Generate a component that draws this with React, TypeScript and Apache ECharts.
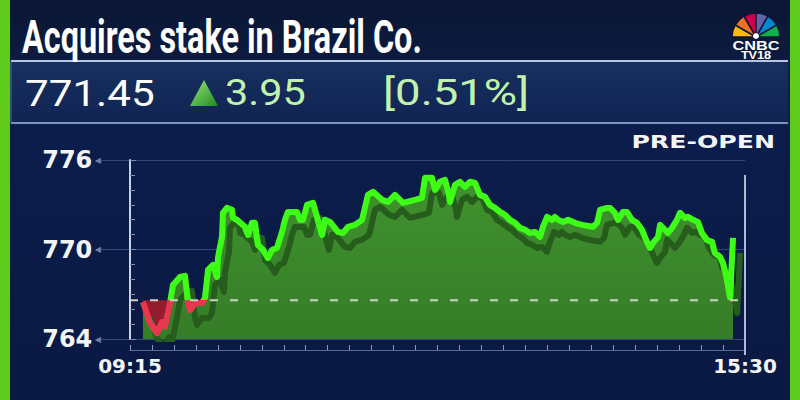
import React, { useEffect, useRef } from 'react';
import * as echarts from 'echarts';

const titleText = 'Acquires stake in Brazil Co.';
const lastPrice = '771.45';
const changeAbs = '3.95';
const changePct = '[0.51%]';
const sessionLabel = 'PRE-OPEN';

const yTickValues = [764, 770, 776];
const xLabelTexts = ['09:15', '15:30'];
const sessionMinutes = 375;
const baseLine = 766.6;

// minutes after 09:15
const minutes = [
  7.9, 12.2, 16.5, 19.5, 21.3, 24.4, 26.2, 30.5, 33.5, 35.4, 36.6, 39.6, 43.9, 45.7, 47.6,
  50.6, 53.0, 53.7, 56.1, 56.7, 59.1, 62.2, 62.8, 65.2, 70.1, 72.0, 74.4, 76.2, 78.0, 81.1,
  84.1, 86.6, 89.6, 92.7, 94.5, 96.3, 101.8, 103.7, 105.5, 107.9, 111.6, 114.0, 117.1, 118.9,
  122.0, 126.8, 129.9, 132.9, 137.2, 141.5, 145.1, 148.2, 153.7, 157.3, 161.6, 166.5, 173.8,
  178.0, 179.9, 184.1, 186.0, 189.0, 192.1, 194.5, 195.1, 198.2, 201.2, 204.3, 207.3, 210.4,
  213.4, 216.5, 219.5, 222.6, 225.6, 228.7, 231.7, 234.8, 237.8, 240.9, 243.9, 247.0, 250.0,
  251.8, 254.3, 257.3, 259.1, 261.0, 264.0, 267.1, 271.3, 275.6, 282.3, 284.8, 286.6, 290.9,
  292.7, 295.7, 297.6, 300.6, 303.0, 306.1, 309.1, 312.2, 315.2, 317.1, 318.9, 322.0, 323.2,
  326.2, 328.0, 330.5, 333.5, 335.4, 338.4, 340.2, 343.3, 346.3, 348.8, 351.8, 354.9, 356.7,
  359.8, 361.6, 364.0, 365.9, 367.7,
];

const prices = [
  766.48, 765.07, 764.4, 765.14, 764.83, 766.42, 767.62, 768.16, 768.23, 766.42, 765.95, 766.42, 766.42, 766.75, 768.63,
  768.97, 768.16, 769.5, 770.85, 772.46, 772.79, 772.66, 772.12, 771.99, 771.52, 770.98, 771.79, 771.79, 770.31, 769.97,
  769.44, 769.97, 770.11, 771.18, 771.99, 772.52, 772.52, 771.99, 771.99, 772.99, 773.13, 772.19, 770.98, 771.99,
  771.85, 771.18, 771.11, 771.52, 771.65, 771.99, 773.66, 773.87, 773.33, 773.19, 773.66, 773.13, 773.33,
  773.46, 774.81, 774.81, 774.0, 774.54, 774.67, 773.66, 773.19, 774.34, 774.54, 774.2, 774.54, 774.47,
  773.66, 773.53, 772.99, 772.79, 772.52, 772.32, 771.99, 771.79, 771.45, 771.32, 771.11, 771.18, 770.85,
  771.52, 772.19, 771.99, 772.19, 771.99, 771.85, 771.99, 771.79, 771.65, 771.52, 771.79, 772.66, 772.79,
  772.79, 772.46, 771.99, 772.52, 772.52, 771.99, 771.79, 771.32, 770.51, 770.11, 770.44, 770.85, 771.65,
  771.32, 771.11, 771.45, 771.99, 772.46, 772.12, 772.19, 771.99, 771.85, 771.11, 770.64, 770.51, 769.77,
  769.5, 769.1, 767.96, 766.75, 770.78,
];

const redSegmentCount = 15;

export default function App() {
  const ref = useRef<HTMLDivElement>(null);

  useEffect(() => {
    if (!ref.current) return;
    const chart = echarts.init(ref.current, undefined, { renderer: 'svg' });
    const points = minutes.map((m, i) => [m, prices[i]]);
    const redPoints = points.slice(0, redSegmentCount);

    const petalColors = ['#fcb711', '#f37021', '#cc004c', '#6460aa', '#0089d0', '#0db14b'];
    const petals = petalColors.map((c, i) => ({
      type: 'sector',
      z: 10,
      shape: {
        cx: 756,
        cy: 37,
        r: 24,
        r0: 3,
        startAngle: Math.PI + (i * Math.PI) / 6,
        endAngle: Math.PI + ((i + 1) * Math.PI) / 6,
      },
      style: { fill: c, stroke: '#0b1836', lineWidth: 1.5 },
    }));

    const option: any = {
      animation: false,
      backgroundColor: '#0b1b45',
      grid: [
        { left: 130, right: 55, top: 160, bottom: 61, containLabel: false },
        { left: 101, right: 55, top: 160, bottom: 61, containLabel: false },
      ],
      xAxis: [
        {
          type: 'value',
          gridIndex: 0,
          min: 0,
          max: sessionMinutes,
          interval: sessionMinutes,
          offset: 11,
          axisLine: { show: true, lineStyle: { color: '#56689a', width: 1 } },
          axisTick: { show: true, inside: true, length: 5, lineStyle: { color: '#8797c0' } },
          minorTick: { show: true, splitNumber: 28, length: 5, lineStyle: { color: '#8797c0' } },
          axisLabel: {
            formatter: (v: number) => (v === 0 ? xLabelTexts[0] : v === sessionMinutes ? xLabelTexts[1] : ''),
            color: '#f2f4f8',
            fontFamily: 'DejaVu Sans',
            fontWeight: 'bold',
            fontSize: 20,
            margin: 6,
          },
          splitLine: { show: false },
        },
        {
          type: 'value',
          gridIndex: 1,
          min: 0,
          max: 1,
          show: false,
        },
      ],
      yAxis: [
        {
          type: 'value',
          gridIndex: 0,
          min: 764,
          max: 776,
          interval: 6,
          axisLine: { show: true, lineStyle: { color: '#c9d2e6', width: 2 } },
          axisTick: { show: true, inside: true, length: 6, lineStyle: { color: '#7e8db4' } },
          minorTick: { show: true, splitNumber: 6, length: 5, lineStyle: { color: '#7e8db4' } },
          axisLabel: { show: false },
          splitLine: { show: false },
        },
        {
          type: 'value',
          gridIndex: 1,
          min: 764,
          max: 776,
          interval: 6,
          axisLine: { show: false },
          axisTick: { show: false },
          axisLabel: {
            margin: 0,
            formatter: (v: number) => (yTickValues.includes(v) ? `{v|${v}}{a| ◀}` : ''),
            rich: {
              v: { color: '#f2f4f8', fontFamily: 'DejaVu Sans', fontWeight: 'bold', fontSize: 24 },
              a: { color: '#6f7fa8', fontSize: 8, fontFamily: 'DejaVu Sans' },
            },
          },
          splitLine: { show: true, lineStyle: { color: '#34477a', width: 1 } },
        },
      ],
      visualMap: {
        type: 'piecewise',
        show: false,
        dimension: 1,
        seriesIndex: 1,
        pieces: [
          { gte: 700, lt: baseLine, color: '#e8384f' },
          { gte: baseLine, lte: 800, color: '#3cff17' },
        ],
      },
      series: [
        {
          type: 'line',
          data: redPoints,
          symbol: 'none',
          silent: true,
          lineStyle: { width: 0 },
          areaStyle: { origin: baseLine, color: '#951b2e', opacity: 1 },
          z: 2,
        },
        {
          type: 'line',
          data: points,
          symbol: 'none',
          z: 3,
          lineStyle: {
            width: 6,
            join: 'round',
            shadowColor: '#285d1d',
            shadowOffsetX: 7,
            shadowOffsetY: 15,
            shadowBlur: 0,
          },
          areaStyle: {
            origin: 'start',
            opacity: 1,
            color: new echarts.graphic.LinearGradient(0, 0, 0, 1, [
              { offset: 0, color: '#41922f' },
              { offset: 1, color: '#357d27' },
            ]),
          },
        },
        {
          type: 'line',
          data: [[0, baseLine], [371, baseLine]],
          symbol: 'none',
          silent: true,
          z: 5,
          lineStyle: { color: '#c9d3c2', width: 2, type: [8, 12] },
        },
      ],
      graphic: [
        { type: 'rect', z: -10, shape: { x: 0, y: 0, width: 800, height: 61 }, style: { fill: new echarts.graphic.LinearGradient(0, 0, 0, 1, [{ offset: 0, color: '#0a1633' }, { offset: 1, color: '#0c1b40' }]) } },
        { type: 'rect', z: -10, shape: { x: 11, y: 61, width: 777, height: 62 }, style: { fill: new echarts.graphic.LinearGradient(0, 0, 0, 1, [{ offset: 0, color: '#17305f' }, { offset: 1, color: '#102452' }]) } },
        { type: 'line', z: -9, shape: { x1: 11, y1: 61, x2: 788, y2: 61 }, style: { stroke: '#b7c6e4', lineWidth: 2 } },
        { type: 'line', z: -9, shape: { x1: 11, y1: 123, x2: 788, y2: 123 }, style: { stroke: '#7c92c0', lineWidth: 2 } },
        { type: 'line', z: -9, shape: { x1: 11, y1: 61, x2: 11, y2: 123 }, style: { stroke: '#5c74a6', lineWidth: 1 } },
        { type: 'rect', z: -10, shape: { x: 0, y: 124, width: 800, height: 276 }, style: { fill: new echarts.graphic.LinearGradient(0, 0, 0, 1, [{ offset: 0, color: '#0b1d4c' }, { offset: 1, color: '#0a1942' }]) } },
        { type: 'rect', z: 20, shape: { x: 0, y: 0, width: 10, height: 400 }, style: { fill: '#5dcc1c' } },
        { type: 'rect', z: 20, shape: { x: 790, y: 0, width: 10, height: 400 }, style: { fill: '#5dcc1c' } },
        { type: 'line', z: 4, shape: { x1: 745, y1: 175, x2: 745, y2: 355 }, style: { stroke: '#aebbd8', lineWidth: 2 } },
        {
          type: 'text', x: 22, y: 37, scaleX: 0.69, z: 10,
          style: { text: titleText, fill: '#ffffff', font: 'bold 47px Roboto', textAlign: 'left', textVerticalAlign: 'middle' },
        },
        {
          type: 'text', x: 25, y: 93, scaleX: 1.14, z: 10,
          style: { text: lastPrice, fill: '#ffffff', font: '37px Roboto', textAlign: 'left', textVerticalAlign: 'middle' },
        },
        {
          type: 'polygon', z: 10,
          shape: { points: [[190, 106], [204, 80], [218, 106]] },
          style: { fill: new echarts.graphic.LinearGradient(0, 0, 1, 1, [{ offset: 0, color: '#9ae87c' }, { offset: 1, color: '#1f8a1e' }]) },
        },
        {
          type: 'text', x: 225, y: 93, scaleX: 1.12, z: 10,
          style: { text: changeAbs, fill: '#c2f3ae', font: '37px Roboto', textAlign: 'left', textVerticalAlign: 'middle' },
        },
        {
          type: 'text', x: 383, y: 93, scaleX: 1.23, z: 10,
          style: { text: changePct, fill: '#c2f3ae', font: '37px Roboto', textAlign: 'left', textVerticalAlign: 'middle' },
        },
        {
          type: 'text', x: 775, y: 142, scaleX: 1.4, z: 10,
          style: { text: sessionLabel, fill: '#f2f4f8', font: 'bold 18px "DejaVu Sans"', textAlign: 'right', textVerticalAlign: 'middle' },
        },
        ...petals,
        { type: 'circle', z: 11, shape: { cx: 756, cy: 36, r: 3 }, style: { fill: '#ffffff' } },
        {
          type: 'text', x: 756, y: 46, scaleX: 1.25, z: 11,
          style: { text: 'CNBC', fill: '#ffffff', font: 'bold 13px "Liberation Sans"', textAlign: 'center', textVerticalAlign: 'middle' },
        },
        {
          type: 'text', x: 756, y: 55, scaleX: 1.15, z: 11,
          style: { text: 'TV18', fill: '#ffffff', font: 'bold 11px "Liberation Sans"', textAlign: 'center', textVerticalAlign: 'middle' },
        },
      ],
    };

    chart.setOption(option);
    return () => chart.dispose();
  }, []);

  return (
    <div
      ref={ref}
      style={{ position: 'fixed', left: 0, top: 0, width: 800, height: 400 }}
    />
  );
}
